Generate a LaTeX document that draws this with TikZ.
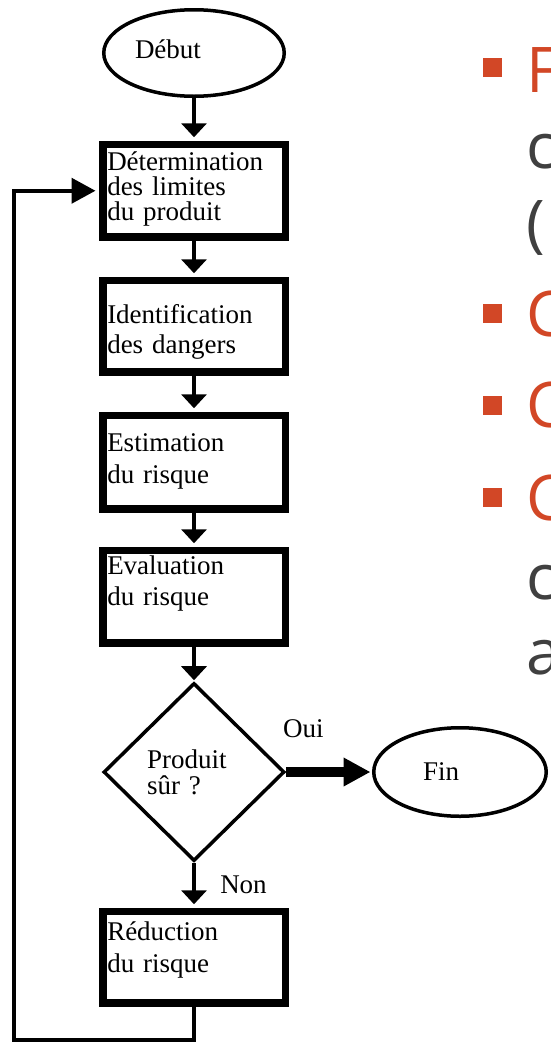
\documentclass[tikz,border=0pt]{standalone}
\usepackage{fontspec}
\setmainfont{Liberation Serif}
\newfontfamily\slidefont{Open Sans}
\usetikzlibrary{shapes.geometric,arrows.meta}
\definecolor{slidered}{RGB}{210,71,38}
\definecolor{slidegrey}{RGB}{64,64,64}
\begin{document}
\begin{tikzpicture}[x=1pt,y=-1pt,font=\fontsize{27}{27}\selectfont,
    box/.style={draw,line width=7.5pt,anchor=north,text width=173.5pt,align=left,inner xsep=4.5pt,inner ysep=0pt},
    term/.style={draw,ellipse,line width=3.5pt,align=left,inner sep=0pt},
    test/.style={draw,diamond,line width=3.5pt,minimum width=181pt,minimum height=178pt,inner sep=0pt,text width=94pt,align=left},
    arr/.style={line width=4.5pt,-{Triangle[length=14pt,width=25pt]},shorten >=3.5pt},
    lbl/.style={inner sep=0pt},
    puce/.style={fill=slidered,minimum size=19pt,inner sep=0pt},
    ligne/.style={anchor=base west,inner sep=0pt,font=\slidefont\fontsize{63}{63}\selectfont}]
    \useasboundingbox (0,0) rectangle (550,1042);
    \node[term,minimum width=180.5pt,minimum height=86.5pt,text width=118pt,text depth=8pt] (debut) at (194,53) {Début};
    \node[box,text height=26.25pt,text depth=66.25pt,font=\fontsize{27}{25}\selectfont] (det) at (194,140.75) {Détermination\\des limites\\du produit};
    \node[box,text height=43.25pt,text depth=48.25pt,font=\fontsize{27}{30}\selectfont] (ident) at (194,276.75) {Identification\\des dangers};
    \node[box,text height=36.25pt,text depth=57.25pt,font=\fontsize{27}{32}\selectfont] (estim) at (194,411.75) {Estimation\\du risque};
    \node[box,text height=24.25pt,text depth=68.25pt,font=\fontsize{27}{31}\selectfont] (evalu) at (194,546.75) {Evaluation\\du risque};
    \node[test,font=\fontsize{27}{26}\selectfont] (sur) at (194,772) {Produit\\sûr ?};
    \node[term,minimum width=172.5pt,minimum height=88.5pt,text width=74pt] (fin) at (460,772) {Fin};
    \node[box,text height=29.25pt,text depth=62.25pt,font=\fontsize{27}{32}\selectfont] (reduc) at (194,907.75) {Réduction\\du risque};
    \coordinate (retour) at (14,1040);

    \draw[arr] (debut) -- (det);
    \draw[arr] (det) -- (ident);
    \draw[arr] (ident) -- (estim);
    \draw[arr] (estim) -- (evalu);
    \draw[arr,shorten >=1pt] (evalu) -- (sur);
    \draw[arr] (sur) -- node[lbl,right=24pt] {Non} (reduc);
    \draw[line width=10pt,-{Triangle[length=27pt,width=27pt]},shorten >=1.5pt] (sur) -- node[lbl,pos=0.2,above=29pt] {Oui} (fin);
    \draw[line width=4pt,-{Triangle[length=24pt,width=25pt]},shorten >=3.5pt] (reduc) |- (retour) |- (det);

    \begin{scope}
        \clip (0,0) rectangle (550,1042);
        \foreach \y [count=\i] in {67.5,313.5,405.5,497.5}
            \node[puce] (p\i) at (492.5,\y) {};
        \foreach \y/\t/\c [count=\i] in {92/F/slidered,168/c/slidegrey,245/(/slidegrey,336/C/slidered,427/C/slidered,520/C/slidered,599/c/slidegrey,674/a/slidegrey}
            \node[ligne,text=\c] (l\i) at (526,\y) {\t};
    \end{scope}
\end{tikzpicture}
\end{document}
